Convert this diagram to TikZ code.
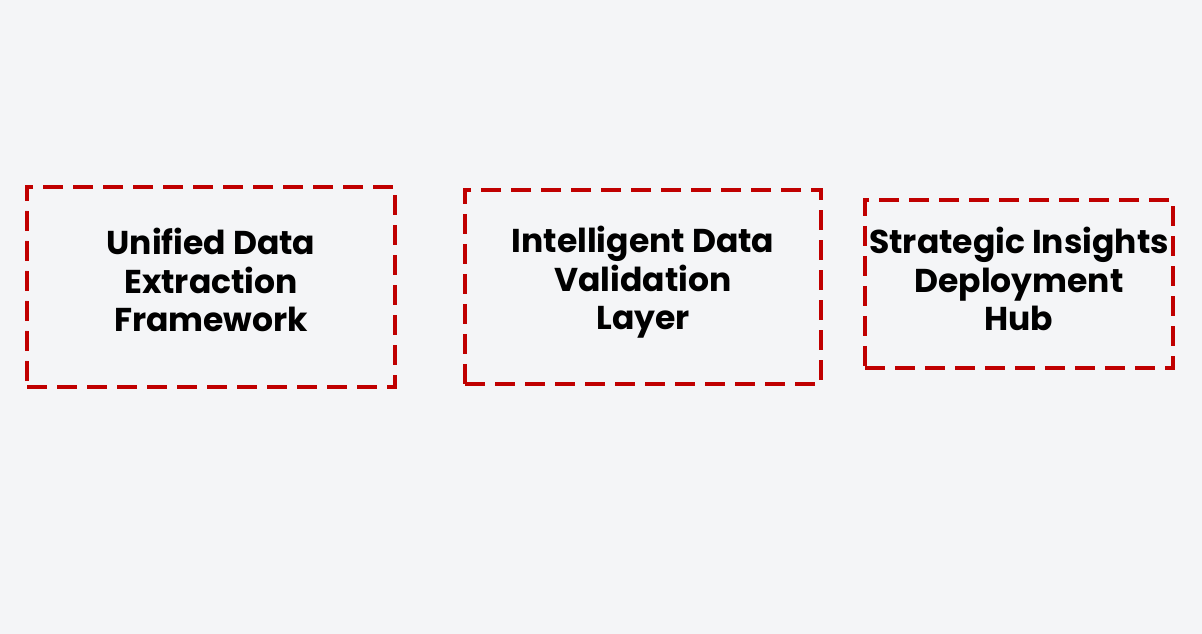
\documentclass[tikz,border=0pt]{standalone}
\usepackage{fontspec}
\setmainfont{Poppins}
\usetikzlibrary{positioning}
\definecolor{pagebg}{RGB}{244,245,247}
\definecolor{boxred}{RGB}{192,0,0}
\newcommand{\liftby}[1]{\rule[-#1]{0pt}{0pt}}
\tikzset{
  every node/.style={text=black, font=\fontsize{33}{38.5}\selectfont\bfseries},
  stage/.style={draw=boxred, line width=4pt, dash pattern=on 20pt off 10pt, align=center, inner sep=0pt}
}

\begin{document}
\begin{tikzpicture}[x=1pt, y=1pt]
  \useasboundingbox[fill=pagebg] (0,0) rectangle (1202,634);
  % Nodes
  \node (extract) [stage, minimum width=368pt, minimum height=200pt] at (211,347) {Unified Data\\ Extraction\\ Framework\liftby{14pt}};
  \node (validate) [stage, right=66pt of extract, minimum width=356pt, minimum height=194pt] {Intelligent Data\\ Validation\\ Layer\liftby{18pt}};
  \node (deploy) [stage, right=40pt of validate, yshift=3pt, minimum width=308pt, minimum height=168pt] {Strategic Insights\\ Deployment\\ Hub\liftby{10pt}};
\end{tikzpicture}
\end{document}
